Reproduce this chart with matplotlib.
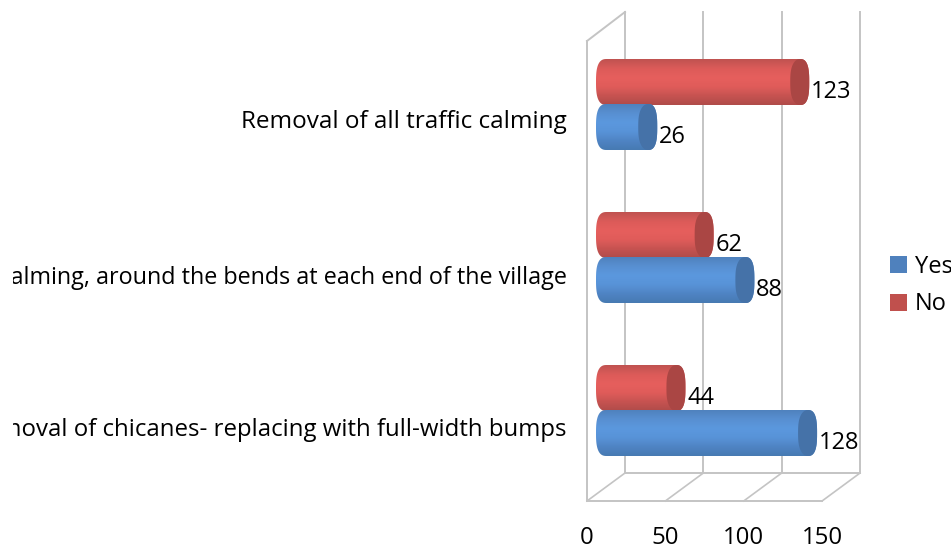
#!/usr/bin/env python3
# -*- coding: utf-8 -*-
import numpy as np
import matplotlib
matplotlib.use('Agg')
import matplotlib.pyplot as plt
from matplotlib.patches import Patch, PathPatch, Polygon, Rectangle
from matplotlib.path import Path
from matplotlib.colors import LinearSegmentedColormap

# bottom to top, as on the chart
categories = ['Removal of chicanes- replacing with full-width bumps',
              'Traffic calming, around the bends at each end of the village',
              'Removal of all traffic calming']
yes_values = [128, 88, 26]
no_values = [44, 62, 123]
ticks = [0, 50, 100, 150]

W, H = 951, 550
PX = 1.567        # pixels per unit of value
X0 = 607          # pixel of value 0 in the bar plane
Y0 = 410.5        # pixel of the lowest category
ROW = 153.0       # pixels between categories
BACK = 18 / PX    # wall is behind the bars
FRONT = -20 / PX  # front edge of the floor
CAP = 9.5 / PX    # half width of the cylinder end
LEFT = 11 / PX    # the far end bulges a bit more
GREY = '#c4c4c4'

plt.rcParams['font.family'] = ['Open Sans', 'DejaVu Sans']
fig = plt.figure(figsize=(W / 100, H / 100), dpi=100)
ax = fig.add_axes([0, 0, 1, 1])
ax.set_xlim(-X0 / PX, (W - X0) / PX)
ax.set_ylim((Y0 - H) / ROW, Y0 / ROW)
ax.set_axis_off()


def py(p):
    # pixel row to y data
    return (Y0 - p) / ROW


def squash(a, e=0.72):
    # keeps sign, flattens the ellipse a little like the picture
    return np.sign(a) * np.abs(a) ** e


#walls and floor
top_back, bot_back = py(12), py(473)
top_front, bot_front = py(41), py(501)
for v in ticks:
    ax.plot([v + BACK, v + BACK], [top_back, bot_back], color=GREY, lw=1.4, zorder=1)
    ax.plot([v + FRONT, v + BACK], [bot_front, bot_back], color=GREY, lw=1.2, zorder=1)
ax.plot([ticks[0] + BACK, ticks[-1] + BACK], [bot_back, bot_back], color=GREY, lw=1.4, zorder=1)
ax.plot([ticks[0] + FRONT, ticks[-1] + FRONT], [bot_front, bot_front], color=GREY, lw=1.4, zorder=1)
ax.plot([FRONT, FRONT], [top_front, bot_front], color=GREY, lw=1.4, zorder=1)
ax.plot([FRONT, BACK], [top_front, top_back], color=GREY, lw=1.4, zorder=1)


def cylinder(v, y, h, body, cap, z):
    # body is a vertical gradient clipped to a capsule, cap is the lit end
    t = np.linspace(-np.pi / 2, np.pi / 2, 60)
    cx, sy = squash(np.cos(t)), squash(np.sin(t))
    right = np.column_stack([v + CAP * cx, y + h / 2 * sy])
    left = np.column_stack([-LEFT * cx[::-1], y + h / 2 * sy[::-1]])
    outline = Path(np.vstack([right, left, right[:1]]), closed=True)
    cmap = LinearSegmentedColormap.from_list('c', body)
    grad = np.linspace(0, 1, 64).reshape(-1, 1)
    im = ax.imshow(grad, cmap=cmap, aspect='auto', origin='upper', zorder=z,
                   extent=[-LEFT, v + CAP, y - h / 2, y + h / 2])
    edge = PathPatch(outline, fc='none', ec='none', transform=ax.transData)
    ax.add_patch(edge)
    im.set_clip_path(edge)
    # inner side of the end is a rounder arc than the outline
    back = np.column_stack([v - CAP * np.cos(t[::-1]), y + h / 2 * sy[::-1]])
    ax.add_patch(Polygon(np.vstack([right, back]), closed=True, fc=cap, ec='none', zorder=z + 0.1))


RED_BODY = ['#c05250', '#dc5b59', '#e65f5d', '#e05c5a', '#c75351', '#b04c4a']
BLUE_BODY = ['#4f82be', '#5890d2', '#5b98de', '#5893d8', '#4f84c4', '#477ab2']
OFF = 22.5 / ROW
BAR_H = 46 / ROW

for i in range(len(categories)):
    cylinder(no_values[i], i + OFF, BAR_H, RED_BODY, '#aa4644', 3 + i)
    cylinder(yes_values[i], i - OFF, BAR_H, BLUE_BODY, '#4572a8', 3.5 + i)
    for val, yy in ((no_values[i], i + OFF), (yes_values[i], i - OFF)):
        ax.annotate(str(val), (val + CAP, yy), xytext=(1.2, -7), textcoords='offset points',
                    ha='left', va='center', fontsize=17, color='black', zorder=10)

#category labels, the long ones are cut off by the chart frame
clip = Rectangle((13, 0), W - 13, H, transform=None)
label_dy = [19, 20, 18]
label_size = [17.3, 16.8, 17.5]
for i, name in enumerate(categories):
    t = ax.annotate(name, (FRONT, i), xycoords='data',
                    xytext=(-14.5, -label_dy[i] * 0.72), textcoords='offset points',
                    ha='right', va='center', fontsize=label_size[i], color='black', annotation_clip=False)
    t.set_clip_path(clip)
    t.set_clip_on(True)

#value axis labels
for v in ticks:
    ax.text(v + FRONT, py(538), str(v), ha='center', va='center', fontsize=17.3, color='black')

handles = [Patch(fc='#4f81bd', ec='none', label='Yes'), Patch(fc='#c0504d', ec='none', label='No')]
ax.legend(handles=handles, loc='upper left', bbox_to_anchor=(885 / W, 1 - 250 / H), frameon=False,
          fontsize=17, handlelength=0.72, handleheight=0.72, handletextpad=0.35,
          labelspacing=0.58, borderpad=0.2, borderaxespad=0)

fig.savefig('out.png', dpi=100)
